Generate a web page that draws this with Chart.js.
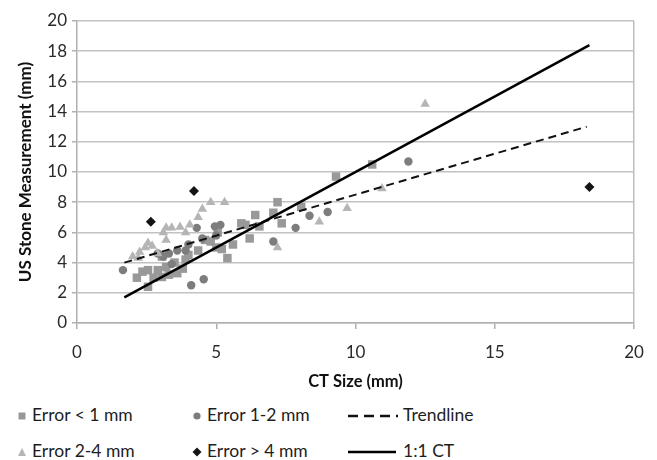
<!DOCTYPE html>
<html>
<head>
<meta charset="utf-8">
<script src="https://cdn.jsdelivr.net/npm/chart.js@4.4.1/dist/chart.umd.min.js"></script>
<style>
  html, body { margin: 0; padding: 0; background: #fff; }
  #wrap { position: relative; width: 657px; height: 460px; font-family: Lato, "Noto Sans", sans-serif; }
  #cv { position: absolute; left: 0; top: 0; }
  .lg { position: absolute; font-size: 17.5px; color: #1e1e1e; line-height: 20px; white-space: nowrap; }
  .lg svg { position: absolute; }
</style>
</head>
<body>
<div id="wrap">
  <div style="position:absolute;left:0;top:0;width:657px;height:395px;"><canvas id="cv"></canvas></div>
  <div id="legend"></div>
</div>
<script>
// ---- data ----
const seriesNames = ["Error < 1 mm", "Error 1-2 mm", "Trendline", "Error 2-4 mm", "Error > 4 mm", "1:1 CT"];

const sqX = [2.15, 2.35, 2.55, 2.9, 2.55, 2.75, 3.05, 3.2, 3.05, 3.5, 3.9, 4.35, 4.6, 5.0, 5.05, 5.4, 5.6, 5.9, 6.05, 6.2, 6.4, 6.55, 7.05, 7.2, 7.35, 8.05, 9.3, 10.6, 3.3, 3.6, 4.0, 4.8, 5.2, 3.8];
const sqY = [3.0, 3.4, 3.5, 3.5, 2.4, 3.0, 3.05, 3.7, 4.4, 4.0, 4.2, 4.8, 5.5, 5.0, 6.0, 4.3, 5.2, 6.6, 6.5, 5.6, 7.15, 6.4, 7.3, 8.0, 6.6, 7.7, 9.7, 10.5, 3.2, 3.3, 4.5, 5.4, 4.9, 3.6];

const ciX = [1.65, 2.9, 3.9, 4.0, 4.1, 4.55, 4.3, 4.95, 5.15, 3.3, 3.6, 4.5, 7.05, 7.85, 8.35, 9.0, 11.9, 5.0, 3.4, 3.1];
const ciY = [3.5, 4.6, 4.8, 5.2, 2.5, 2.9, 6.3, 6.4, 6.5, 4.6, 4.8, 5.6, 5.4, 6.3, 7.1, 7.35, 10.7, 5.8, 3.9, 4.4];

const trX = [2.0, 2.25, 2.55, 2.45, 2.7, 2.9, 3.1, 3.2, 3.4, 3.7, 4.05, 4.35, 4.5, 4.8, 5.3, 3.2, 7.2, 8.7, 9.7, 10.95, 12.5, 3.9, 2.2];
const trY = [4.4, 4.7, 5.3, 5.0, 5.1, 4.6, 6.0, 5.5, 6.3, 6.35, 6.5, 7.0, 7.55, 8.0, 8.0, 6.3, 5.0, 6.7, 7.6, 8.9, 14.5, 6.0, 4.3];

const dmX = [2.65, 4.2, 18.4];
const dmY = [6.7, 8.75, 9.0];

const trendX = [1.7, 18.3];
const trendY = [4.0, 13.0];

const oneX = [1.7, 18.4];
const oneY = [1.7, 18.4];

const xTicks = [0, 5, 10, 15, 20];
const yTicks = [0, 2, 4, 6, 8, 10, 12, 14, 16, 18, 20];
const xTitle = "CT Size (mm)";
const yTitle = "US Stone Measurement (mm)";

// ---- build ----
const pts = (xs, ys) => xs.map((x, i) => ({ x: x, y: ys[i] }));
const FONT = "Lato, 'Noto Sans', sans-serif";
const cSq = '#999999', cCi = '#7d7d7d', cTr = '#b5b5b5', cDm = '#151515';

const datasets = [
  { label: seriesNames[5], data: pts(oneX, oneY), showLine: true, borderColor: '#000', borderWidth: 2.5, pointRadius: 0, order: 0 },
  { label: seriesNames[2], data: pts(trendX, trendY), showLine: true, borderColor: '#111', borderWidth: 2, borderDash: [8, 5], pointRadius: 0, order: 1 },
  { label: seriesNames[4], data: pts(dmX, dmY), pointStyle: 'rectRot', pointRadius: 5, backgroundColor: cDm, borderColor: cDm, borderWidth: 0, order: 2 },
  { label: seriesNames[3], data: pts(trX, trY), pointStyle: 'triangle', pointRadius: 5.5, backgroundColor: cTr, borderColor: cTr, borderWidth: 0, order: 3 },
  { label: seriesNames[1], data: pts(ciX, ciY), pointStyle: 'circle', pointRadius: 4.2, backgroundColor: cCi, borderColor: cCi, borderWidth: 0, order: 4 },
  { label: seriesNames[0], data: pts(sqX, sqY), pointStyle: 'rect', pointRadius: 6, backgroundColor: cSq, borderColor: cSq, borderWidth: 0, order: 5 }
];

new Chart(document.getElementById('cv'), {
  type: 'scatter',
  data: { datasets: datasets },
  options: {
    responsive: true,
    maintainAspectRatio: false,
    animation: false,
    layout: { padding: { top: 21, right: 23, left: 0, bottom: 0 } },
    plugins: { legend: { display: false }, tooltip: { enabled: false } },
    scales: {
      x: {
        type: 'linear', min: 0, max: 20,
        afterBuildTicks: s => { s.ticks = xTicks.map(v => ({ value: v })); },
        afterFit: s => { s.height = 72; },
        ticks: { color: '#2a2a2a', font: { family: FONT, size: 17 }, padding: 13 },
        grid: {
          drawOnChartArea: true,
          color: ctx => (ctx.tick && ctx.tick.value === 20) ? '#bdbdbd' : 'rgba(0,0,0,0)',
          lineWidth: 1.5,
          tickColor: '#b0b0b0', tickLength: 6
        },
        border: { display: true, color: '#b0b0b0', width: 1.5 },
        title: { display: true, text: xTitle, color: '#111', font: { family: FONT, size: 16.5, weight: 'bold' }, padding: { top: 0, bottom: 3 } }
      },
      y: {
        type: 'linear', min: 0, max: 20,
        afterBuildTicks: s => { s.ticks = yTicks.map(v => ({ value: v })); },
        afterFit: s => { s.width = 77; },
        ticks: { color: '#2a2a2a', font: { family: FONT, size: 17 }, padding: 5 },
        grid: { color: '#c2c2c2', lineWidth: 1.5, tickColor: '#b0b0b0', tickLength: 5 },
        border: { display: true, color: '#b0b0b0', width: 1.5 },
        title: { display: true, text: yTitle, color: '#111', font: { family: FONT, size: 17, weight: 'bold' }, padding: { top: 15, bottom: 0 } }
      }
    }
  }
});

// ---- legend (HTML text) ----
const legendItems = [
  { name: seriesNames[0], kind: 'sq', col: 0, row: 0 },
  { name: seriesNames[1], kind: 'ci', col: 1, row: 0 },
  { name: seriesNames[2], kind: 'dash', col: 2, row: 0 },
  { name: seriesNames[3], kind: 'tr', col: 0, row: 1 },
  { name: seriesNames[4], kind: 'dm', col: 1, row: 1 },
  { name: seriesNames[5], kind: 'line', col: 2, row: 1 }
];
const colMarkX = [22, 197, 348];
const colTextX = [32, 207, 403];
const rowY = [416, 452];
const lg = document.getElementById('legend');
legendItems.forEach(it => {
  const d = document.createElement('div');
  d.className = 'lg';
  d.style.left = colTextX[it.col] + 'px';
  d.style.top = (rowY[it.row] - 11) + 'px';
  d.textContent = it.name;
  lg.appendChild(d);
  const s = document.createElementNS('http://www.w3.org/2000/svg', 'svg');
  s.style.position = 'absolute';
  let w = 12, h = 12, inner = '';
  if (it.kind === 'sq') inner = `<rect x="2.5" y="2.5" width="7" height="7" fill="${cSq}"/>`;
  if (it.kind === 'ci') inner = `<circle cx="6" cy="6" r="3.6" fill="${cCi}"/>`;
  if (it.kind === 'tr') inner = `<polygon points="6,2 10,10 2,10" fill="${cTr}"/>`;
  if (it.kind === 'dm') inner = `<polygon points="6,1.5 10.5,6 6,10.5 1.5,6" fill="${cDm}"/>`;
  if (it.kind === 'dash') { w = 52; inner = `<line x1="0" y1="6" x2="50" y2="6" stroke="#111" stroke-width="2.5" stroke-dasharray="10,6"/>`; }
  if (it.kind === 'line') { w = 50; inner = `<line x1="0" y1="6" x2="48" y2="6" stroke="#000" stroke-width="2.5"/>`; }
  s.setAttribute('width', w); s.setAttribute('height', h);
  s.innerHTML = inner;
  const left = (it.kind === 'dash' || it.kind === 'line') ? colMarkX[it.col] : colMarkX[it.col] - 6;
  s.style.left = left + 'px';
  s.style.top = (rowY[it.row] - 6) + 'px';
  document.getElementById('wrap').appendChild(s);
});
</script>
</body>
</html>
